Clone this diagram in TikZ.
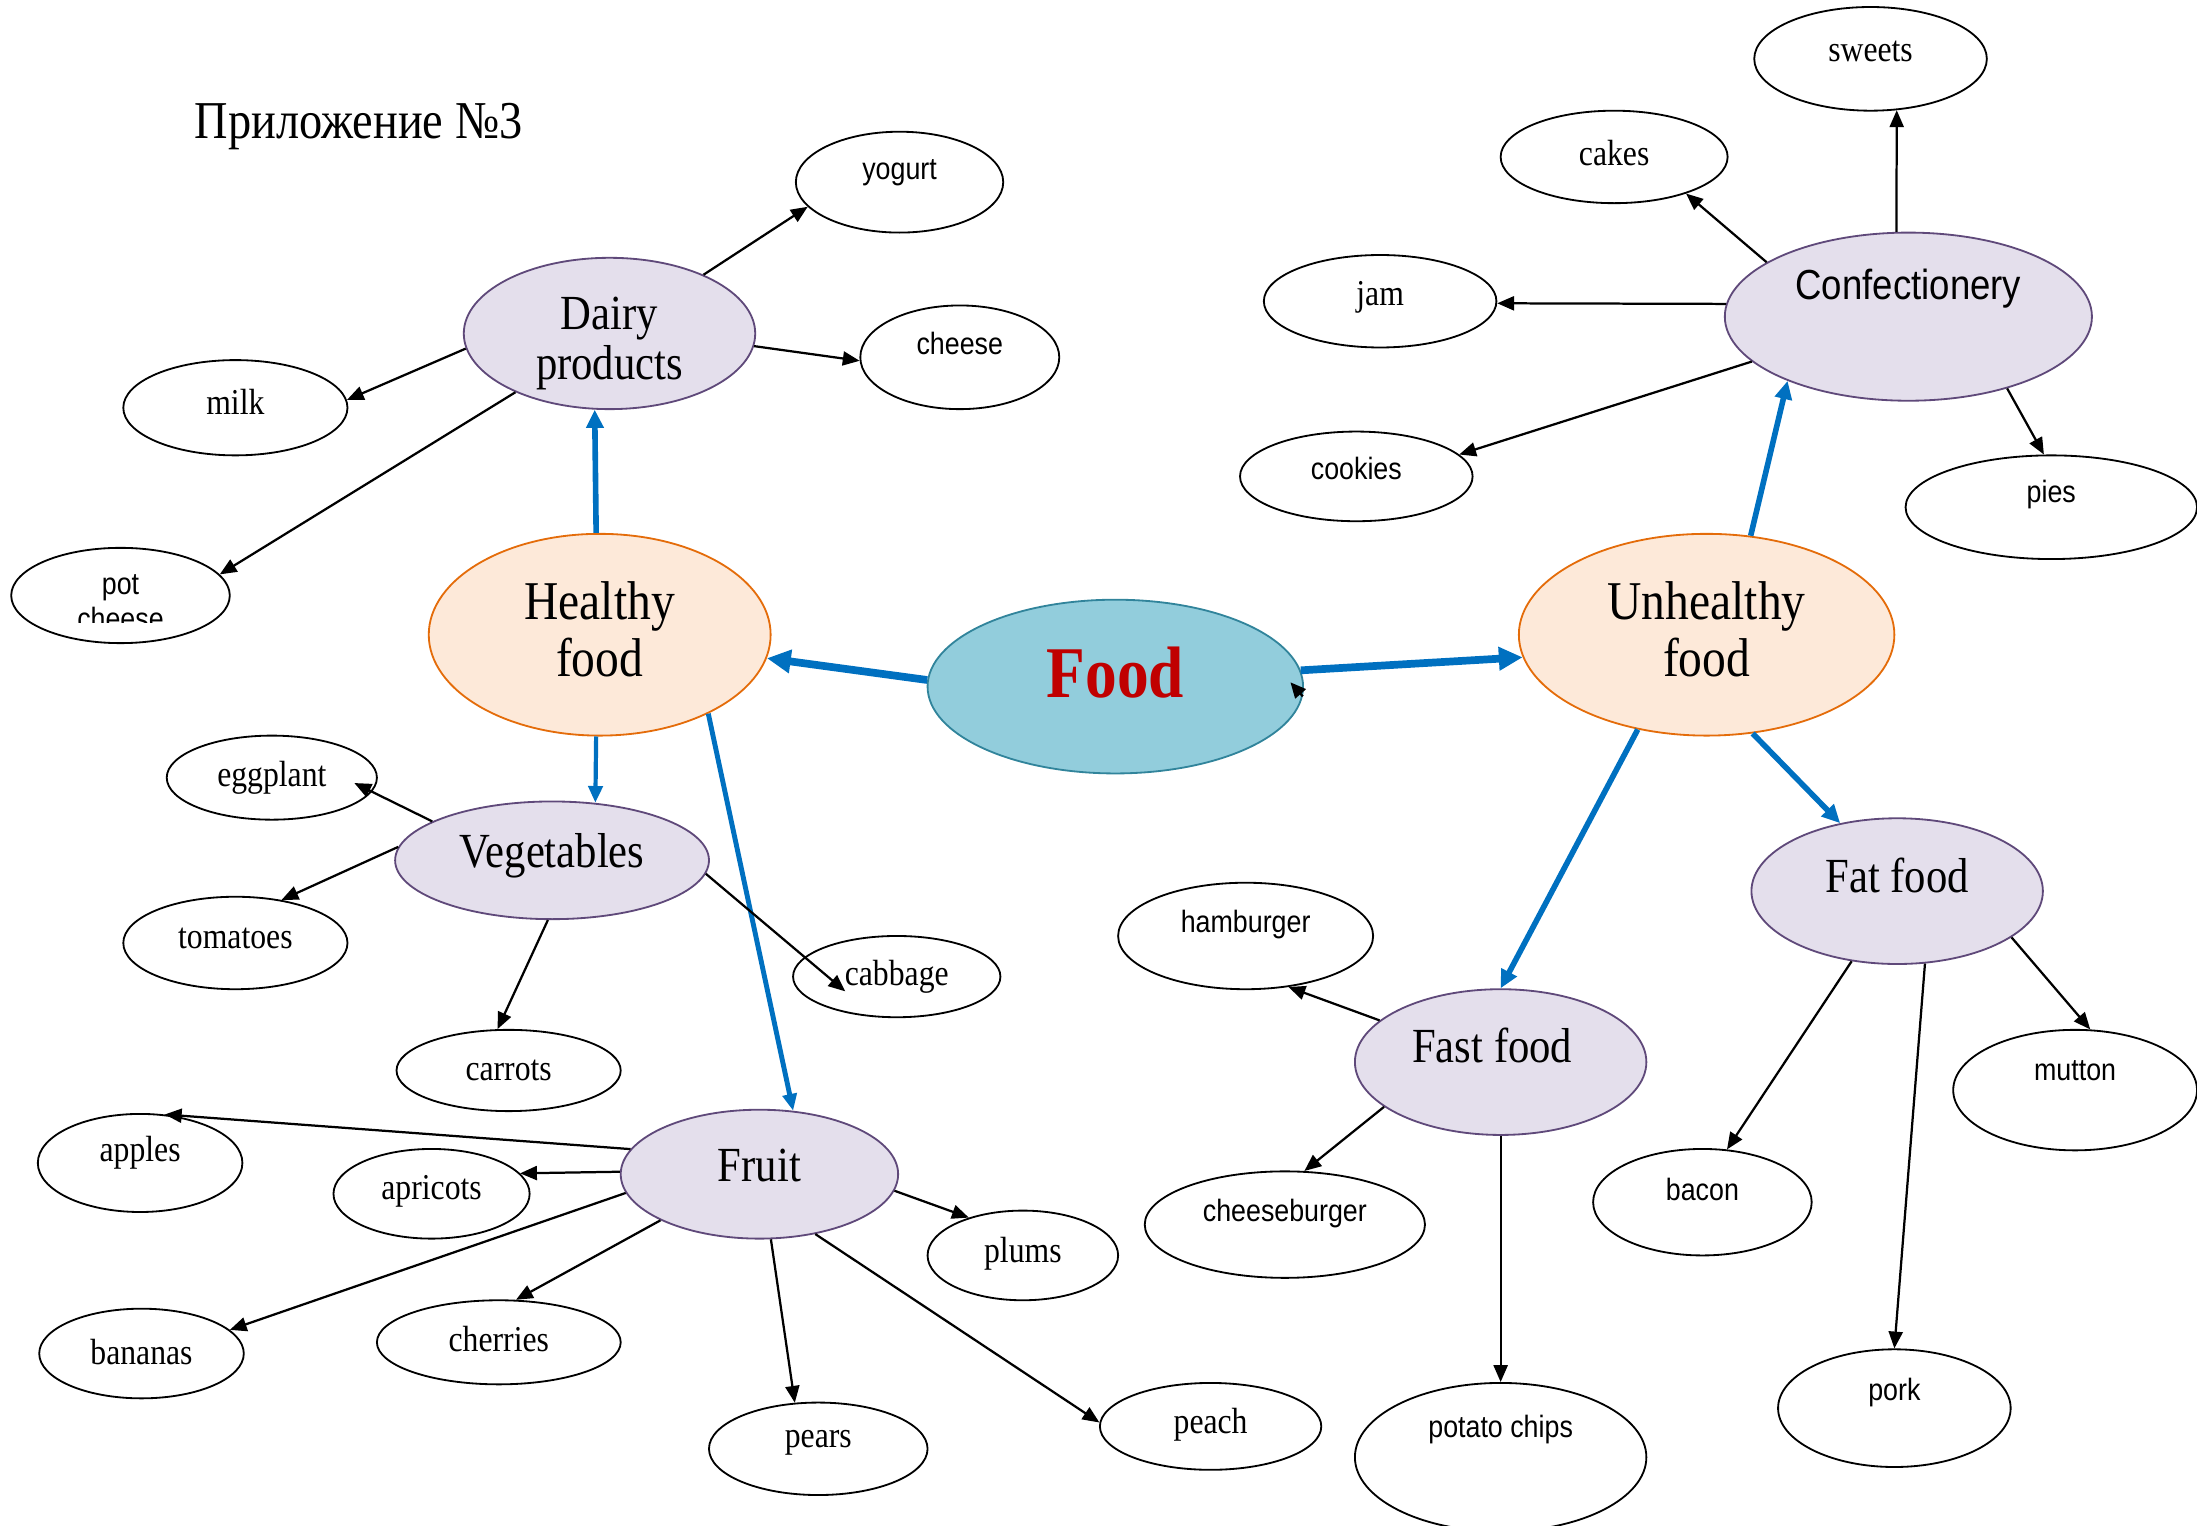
\documentclass[tikz,border=0pt]{standalone}
\usepackage{fontspec}
\setmainfont{Liberation Serif}[FakeStretch=0.87]
\newfontfamily\sansf{Liberation Sans}[FakeStretch=0.87]
\usetikzlibrary{shapes.geometric,arrows.meta}
\definecolor{catfill}{HTML}{E4DFEC}
\definecolor{catline}{HTML}{5F497A}
\definecolor{peachfill}{HTML}{FDE9D9}
\definecolor{peachline}{HTML}{E46C0A}
\definecolor{foodfill}{HTML}{92CDDC}
\definecolor{foodline}{HTML}{31849B}
\definecolor{arrblue}{HTML}{0070C0}
\definecolor{foodred}{HTML}{C00000}
\begin{document}
\begin{tikzpicture}[x=1pt,y=-1pt,
  ellbase/.style={ellipse,inner sep=0pt,line width=1.3pt},
  lf/.style 2 args={ellbase,draw=black,minimum width=2*#1pt,minimum height=2*#2pt},
  cat/.style 2 args={ellbase,draw=catline,fill=catfill,minimum width=2*#1pt,minimum height=2*#2pt},
  mainell/.style 2 args={ellbase,draw=peachline,fill=peachfill,minimum width=2*#1pt,minimum height=2*#2pt},
  sl/.style={inner sep=0pt,font=\fontsize{26}{28}\selectfont},
  ssl/.style={inner sep=0pt,font=\sansf\fontsize{22}{25}\selectfont},
  ml/.style={inner sep=0pt,align=center,font=\fontsize{35}{36}\selectfont},
  bl/.style={inner sep=0pt,align=center,font=\fontsize{39}{41}\selectfont},
  blk/.style={line width=1.6pt,-{Triangle[length=12pt,width=10pt]}},
  blu/.style={arrblue,line width=4pt,-{Triangle[length=13pt,width=12pt]}},
  bluthin/.style={arrblue,line width=3pt,-{Triangle[length=12pt,width=10pt]}},
  bluthick/.style={arrblue,line width=5.5pt,-{Triangle[length=17pt,width=16pt]}}]
\useasboundingbox (0,0) rectangle (1568,1089);

% title
\node[inner sep=0pt,font=\fontsize{38}{40}\selectfont] (title) at (256,90) {Приложение №3};

% ellipses
\node[cat={104}{54}] (dairy) at (435,238) {};
\node[lf={74}{36}] (yogurt) at (642,130) {};
\node[lf={71}{37}] (cheese) at (685,255) {};
\node[lf={80}{34}] (milk) at (168,291) {};
\node[lf={78}{34}] (potcheese) at (86,425) {};
\node[mainell={122}{72}] (healthy) at (428,453) {};
\node[ellbase,draw=foodline,fill=foodfill,minimum width=268pt,minimum height=124pt] (food) at (796,490) {};
\node[mainell={134}{72}] (unhealthy) at (1218,453) {};
\node[cat={131}{60}] (conf) at (1362,226) {};
\node[lf={83}{37}] (sweets) at (1335,42) {};
\node[lf={81}{33}] (cakes) at (1152,112) {};
\node[lf={83}{33}] (jam) at (985,215) {};
\node[lf={83}{32}] (cookies) at (968,340) {};
\node[lf={104}{37}] (pies) at (1464,362) {};
\node[cat={112}{42}] (veg) at (394,614) {};
\node[lf={75}{30}] (eggplant) at (194,555) {};
\node[lf={80}{33}] (tomatoes) at (168,673) {};
\node[lf={80}{29}] (carrots) at (363,764) {};
\node[lf={74}{29}] (cabbage) at (640,697) {};
\node[cat={99}{46}] (fruit) at (542,838) {};
\node[lf={73}{35}] (apples) at (100,830) {};
\node[lf={70}{32}] (apricots) at (308,852) {};
\node[lf={73}{32}] (bananas) at (101,966) {};
\node[lf={87}{30}] (cherries) at (356,958) {};
\node[lf={78}{33}] (pears) at (584,1034) {};
\node[lf={79}{31}] (peach) at (864,1018) {};
\node[lf={68}{32}] (plums) at (730,896) {};
\node[cat={104}{52}] (fast) at (1071,758) {};
\node[lf={91}{38}] (hamburger) at (889,668) {};
\node[lf={100}{38}] (cheeseburger) at (917,874) {};
\node[lf={104}{53}] (chips) at (1071,1040) {};
\node[cat={104}{52}] (fat) at (1354,636) {};
\node[lf={78}{38}] (bacon) at (1215,858) {};
\node[lf={87}{43}] (mutton) at (1481,778) {};
\node[lf={83}{42}] (pork) at (1352,1005) {};

% texts
\node[ml] (t-dairy) at ([yshift=-7pt]dairy.center) {Dairy\\products};
\node[ssl] (t-yogurt) at ([yshift=7pt]yogurt.center) {yogurt};
\node[ssl] (t-cheese) at ([yshift=10pt]cheese.center) {cheese};
\node[sl] (t-milk) at ([yshift=4pt]milk.center) {milk};
\node[ssl,anchor=base] (t-pot) at ([yshift=1pt]potcheese.center) {pot};
\begin{scope}
  \clip (0,300) rectangle (300,444);
  \node[ssl,anchor=base] (t-potcheese) at ([yshift=-24pt]potcheese.center) {cheese};
\end{scope}
\node[bl] (t-healthy) at ([yshift=4pt]healthy.center) {Healthy\\food};
\node[inner sep=0pt,text=foodred,font=\bfseries\fontsize{52}{54}\selectfont] (t-food) at ([yshift=10pt]food.center) {Food};
\node[bl] (t-unhealthy) at ([yshift=4pt]unhealthy.center) {Unhealthy\\food};
\node[inner sep=0pt,font=\sansf\fontsize{30}{32}\selectfont] (t-conf) at ([yshift=20pt]conf.center) {Confectionery};
\node[sl] (t-sweets) at ([yshift=5pt]sweets.center) {sweets};
\node[sl] (t-cakes) at ([yshift=3pt]cakes.center) {cakes};
\node[sl] (t-jam) at ([yshift=3pt]jam.center) {jam};
\node[ssl] (t-cookies) at ([yshift=6pt]cookies.center) {cookies};
\node[ssl] (t-pies) at ([yshift=9pt]pies.center) {pies};
\node[ml] (t-veg) at ([yshift=3pt]veg.center) {Vegetables};
\node[sl] (t-eggplant) at (eggplant.center) {eggplant};
\node[sl] (t-tomatoes) at ([yshift=3pt]tomatoes.center) {tomatoes};
\node[sl] (t-carrots) at (carrots.center) {carrots};
\node[sl] (t-cabbage) at (cabbage.center) {cabbage};
\node[ml] (t-fruit) at ([yshift=6pt]fruit.center) {Fruit};
\node[sl] (t-apples) at ([yshift=7pt]apples.center) {apples};
\node[sl] (t-apricots) at ([yshift=2pt]apricots.center) {apricots};
\node[sl] (t-bananas) at ([yshift=1pt]bananas.center) {bananas};
\node[sl] (t-cherries) at ([yshift=2pt]cherries.center) {cherries};
\node[sl] (t-pears) at ([yshift=4pt]pears.center) {pears};
\node[sl] (t-peach) at ([yshift=1pt]peach.center) {peach};
\node[sl] (t-plums) at ([yshift=1pt]plums.center) {plums};
\node[ml] (t-fast) at ([yshift=12pt,xshift=-6pt]fast.center) {Fast food};
\node[ssl] (t-hamburger) at ([yshift=8pt]hamburger.center) {hamburger};
\node[ssl] (t-cheeseburger) at ([yshift=8pt]cheeseburger.center) {cheeseburger};
\node[ssl] (t-chips) at ([yshift=20pt]chips.center) {potato chips};
\node[ml] (t-fat) at ([yshift=11pt]fat.center) {Fat food};
\node[ssl] (t-bacon) at ([yshift=9pt]bacon.center) {bacon};
\node[ssl] (t-mutton) at ([yshift=14pt]mutton.center) {mutton};
\node[ssl] (t-pork) at ([yshift=11pt]pork.center) {pork};

% blue connectors
\draw[bluthick] (food.178) -- (healthy.-8);
\draw[bluthick] (food.5) -- (unhealthy.187);
\draw[blu] (healthy.92) -- (dairy.259);
\draw[bluthin] (healthy.268) -- (veg.53);
\draw[bluthin,line width=3.5pt] (healthy.-36) -- (fruit.62);
\draw[blu] (unhealthy.66) -- (conf.208);
\draw[blu] (unhealthy.234) -- (fast.90);
\draw[blu] (unhealthy.295) -- (fat.130);
\coordinate (stray) at (921,487);
\draw[blk,-{Triangle[length=11pt,width=10pt]}] (food.-3) -- (stray);

% black connectors
\draw[blk] (dairy.32) -- (yogurt.195);
\draw[blk] (dairy.-5) -- (cheese.182);
\draw[blk] (dairy.186) -- (milk.4);
\draw[blk] (dairy.212) -- (potcheese.12);
\draw[blk] (conf.98) -- (sweets.297);
\draw[blk] (conf.159) -- (cakes.333);
\draw[blk] (conf.176) -- (jam.-1);
\draw[blk] (conf.196) -- (cookies.12);
\draw[blk] (conf.324) -- (pies.98);
\draw[blk,shorten >=-14pt] (veg.162) -- (eggplant.-8);
\draw[blk] (veg.175) -- (tomatoes.43);
\draw[blk] (veg.266) -- (carrots.105);
\draw[blk,shorten >=-38pt] (veg.-5) -- (cabbage.168);
\draw[blk] (fruit.169) -- (apples.63);
\draw[blk] (fruit.179) -- (apricots.13);
\draw[blk] (fruit.188) -- (bananas.15);
\draw[blk] (fruit.205) -- (cherries.68);
\draw[blk] (fruit.280) -- (pears.117);
\draw[blk] (fruit.313) -- (peach.178);
\draw[blk] (fruit.-7) -- (plums.145);
\draw[blk] (fast.161) -- (hamburger.310);
\draw[blk] (fast.201) -- (cheeseburger.70);
\draw[blk] (fast.270) -- (chips.90);
\draw[blk] (fat.237) -- (bacon.65);
\draw[blk] (fat.291) -- (pork.90);
\draw[blk] (fat.338) -- (mutton.76);
\end{tikzpicture}
\end{document}
